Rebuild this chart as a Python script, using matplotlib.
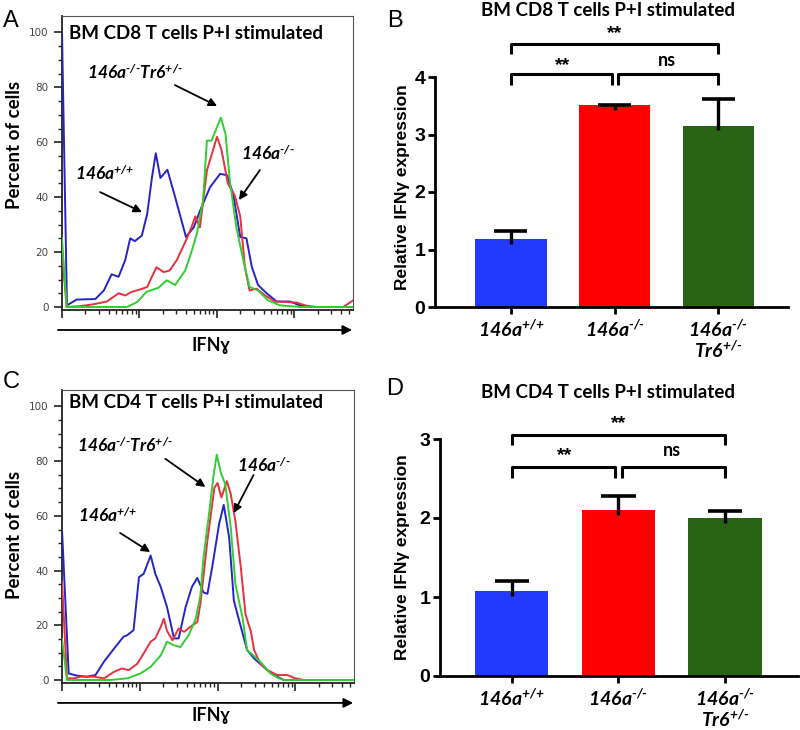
import numpy as np
import matplotlib
matplotlib.use('Agg')
import matplotlib.pyplot as plt

# ---- histogram data (x in log10 decades of IFNg signal, y = percent of cells) ----
cd8_wt_x = [0.0, 0.064, 0.19, 0.43, 0.54, 0.64, 0.73, 0.815, 0.88, 0.94, 1.03, 1.10, 1.16, 1.21, 1.27,
            1.36, 1.46, 1.60, 1.70, 1.78, 1.91, 2.04, 2.13, 2.21, 2.30, 2.38, 2.45, 2.53, 2.64, 2.77,
            2.94, 3.07, 3.28, 3.755]
cd8_wt_y = [100, 0.6, 2.7, 2.9, 6, 11.9, 11, 17, 25, 24, 26, 34, 47, 56, 47,
            50, 40, 25.5, 29, 35, 43.6, 48.5, 48, 41, 25.5, 25, 14.5, 8, 5, 2,
            2, 0.6, 0, 0]
cd8_ko_x = [0.0, 0.06, 0.23, 0.41, 0.58, 0.73, 0.815, 0.90, 1.01, 1.10, 1.16, 1.22, 1.31, 1.39, 1.48,
            1.59, 1.67, 1.72, 1.78, 1.87, 2.00, 2.06, 2.14, 2.23, 2.30, 2.36, 2.42, 2.51, 2.62, 2.75,
            3.03, 3.20, 3.50, 3.63, 3.755]
cd8_ko_y = [20, 0, 0.3, 1, 2, 5, 4.2, 5.5, 6.4, 7.3, 11, 14.5, 12.7, 13.3, 17,
            23.6, 29, 33, 29, 49.7, 62, 57, 45, 40.6, 33, 14.5, 6, 6.7, 4.2, 2,
            1.6, 0, 0, 0, 2.4]
cd8_dko_x = [0.0, 0.06, 0.84, 0.97, 1.09, 1.245, 1.35, 1.46, 1.59, 1.67, 1.74, 1.82, 1.87, 1.93, 2.00,
             2.05, 2.11, 2.17, 2.25, 2.34, 2.42, 2.53, 2.66, 2.81, 3.07, 3.755]
cd8_dko_y = [25, 0, 0, 1.8, 5.5, 7, 9.7, 8, 13.3, 20, 26.7, 38.8, 60.6, 60.6, 65.5,
             69, 63, 45, 29, 17, 7.3, 6, 2.4, 0.6, 0, 0]

cd4_wt_x = [0.0, 0.086, 0.19, 0.32, 0.43, 0.54, 0.67, 0.79, 0.84, 0.92, 0.99, 1.05, 1.14, 1.20, 1.27,
            1.35, 1.44, 1.50, 1.59, 1.67, 1.74, 1.82, 1.87, 1.93, 2.02, 2.08, 2.15, 2.21, 2.30, 2.38,
            2.47, 2.64, 2.77, 2.85, 3.755]
cd4_wt_y = [55, 2.4, 1.6, 1.2, 1.8, 6.7, 11.5, 15.8, 16.4, 18.2, 37.6, 38.8, 45.5, 38.8, 34,
            26.7, 15.2, 15.2, 26.7, 34, 37.3, 32, 31.5, 41, 57, 64, 52, 29, 19.4, 11,
            7.9, 3.6, 1.2, 0, 0]
cd4_ko_x = [0.0, 0.064, 0.15, 0.24, 0.41, 0.54, 0.67, 0.77, 0.86, 0.97, 1.05, 1.14, 1.20, 1.27, 1.31,
            1.35, 1.42, 1.50, 1.57, 1.65, 1.74, 1.78, 1.87, 1.96, 2.00, 2.05, 2.12, 2.17, 2.23, 2.30,
            2.36, 2.43, 2.47, 2.55, 2.64, 2.77, 2.90, 3.00, 3.11, 3.755]
cd4_ko_y = [36, 0.6, 0.6, 1.2, 1.2, 0.6, 3, 4.2, 3.6, 6, 9.7, 14, 15.2, 19.4, 22.4,
            18, 14.5, 18.8, 17.6, 19.4, 21.2, 27.9, 51, 70.3, 72, 66.7, 72.7, 68, 58, 41,
            24, 17.6, 11, 6, 3.6, 1.8, 1.8, 0.6, 0, 0]
cd4_dko_x = [0.0, 0.064, 0.62, 0.84, 1.01, 1.14, 1.27, 1.35, 1.44, 1.52, 1.63, 1.72, 1.78, 1.82, 1.89,
             1.95, 1.99, 2.04, 2.10, 2.17, 2.23, 2.32, 2.38, 2.55, 2.68, 2.79, 2.85, 3.755]
cd4_dko_y = [15, 0, 0, 0.6, 2.4, 4.8, 9, 14, 12.7, 12, 16.4, 22.4, 30.9, 44.8, 60.6,
             75, 82.4, 76, 71.5, 55.8, 35, 23, 11, 6.7, 2.4, 0.6, 0, 0]

# ---- bar data ----
groups = ['wt', 'ko', 'dko']
cd8_mean = [1.18, 3.51, 3.15]
cd8_err = [0.14, 0.01, 0.47]
cd4_mean = [1.07, 2.10, 2.00]
cd4_err = [0.13, 0.18, 0.09]

# superscripts drawn with \text so hyphens stay hyphens
plt.rcParams['mathtext.fontset'] = 'custom'
plt.rcParams['mathtext.rm'] = 'Lato:italic:bold'
plt.rcParams['mathtext.it'] = 'Lato:italic:bold'
plt.rcParams['mathtext.bf'] = 'Lato:italic:bold'

WT = '146a$^{\\text{+/+}}$'
KO = '146a$^{\\text{-/-}}$'
DKO = '146a$^{\\text{-/-}}$Tr6$^{\\text{+/-}}$'
DKO2 = '146a$^{\\text{-/-}}$\nTr6$^{\\text{+/-}}$'
bar_labels = [WT, KO, DKO2]

CAL = ['Lato', 'DejaVu Sans']
ARB = ['Liberation Sans', 'DejaVu Sans']
line_colors = {'wt': '#2424C8', 'ko': '#E8303F', 'dko': '#33CC33'}
bar_colors = ['#243AFA', '#FF0000', '#286414']

W, H = 800, 730
fig = plt.figure(figsize=(8, 7.3), dpi=100)


def px(x0, y0, x1, y1):
    return [x0 / W, 1 - y1 / H, (x1 - x0) / W, (y1 - y0) / H]


def histo(ax, data, title, ann):
    for key, (xs, ys) in data.items():
        ax.plot(10 ** np.array(xs), ys, color=line_colors[key], lw=1.4, zorder=3)
    ax.set_xscale('log')
    ax.set_xlim(1, 10 ** 3.755)
    ax.set_ylim(-1.1, 106)
    ax.set_xticks([1, 10, 100, 1000])
    ax.set_xticklabels([])
    ax.xaxis.set_minor_locator(matplotlib.ticker.LogLocator(base=10, subs=np.arange(2, 10)))
    ax.xaxis.set_minor_formatter(matplotlib.ticker.NullFormatter())
    ax.set_yticks([0, 20, 40, 60, 80, 100])
    ax.set_yticks(np.arange(0, 101, 5), minor=True)
    ax.tick_params(axis='both', which='major', length=6, width=1.2, color='#222222',
                   labelsize=7.5, labelcolor='#444444')
    ax.tick_params(axis='both', which='minor', length=3, width=1.0, color='#222222')
    for s in ax.spines.values():
        s.set_color('#555555')
        s.set_linewidth(0.8)
    ax.spines['left'].set_color('#222222')
    ax.spines['left'].set_linewidth(1.3)
    ax.spines['bottom'].set_color('#222222')
    ax.spines['bottom'].set_linewidth(1.3)
    ax.text(0.025, title[1], title[0], transform=ax.transAxes, ha='left', va='center',
            family=CAL, fontweight='bold', fontsize=13.5)
    for label, txt_xy, tail, head in ann:
        ax.text(txt_xy[0], txt_xy[1], label, transform=ax.transAxes, ha='center', va='center',
                family=CAL, fontweight='bold', style='italic', fontsize=12.5)
        ax.annotate('', xy=head, xytext=tail, xycoords='axes fraction', textcoords='axes fraction',
                    arrowprops=dict(arrowstyle='-|>', color='black', lw=1.3,
                                    mutation_scale=12, shrinkA=0, shrinkB=0))
    ax.annotate('', xy=(0.997, -0.068), xytext=(-0.014, -0.068), xycoords='axes fraction',
                annotation_clip=False,
                arrowprops=dict(arrowstyle='-|>', color='black', lw=1.3,
                                mutation_scale=14, shrinkA=0, shrinkB=0))


def bars(ax, mean, err, ymax, xlim, sig):
    x = np.arange(len(mean))
    mean = np.array(mean)
    err = np.array(err)
    ax.bar(x, mean, width=0.69, color=bar_colors, zorder=2)
    ax.vlines(x, mean - 0.02 * ymax, mean + err, color='black', lw=2.4, zorder=3)
    ax.hlines(mean + err, x - 0.16, x + 0.16, color='black', lw=2.6, zorder=3)
    ax.set_xlim(*xlim)
    ax.set_ylim(0, ymax)
    ax.set_yticks(np.arange(0, ymax + 1))
    ax.set_xticks(x)
    ax.set_xticklabels(bar_labels, family=CAL, fontweight='bold', style='italic', fontsize=13,
                       linespacing=1.0)
    for lab in ax.get_yticklabels():
        lab.set_family(ARB)
        lab.set_fontweight('bold')
    ax.tick_params(axis='both', length=5, width=2, labelsize=14, pad=2)
    ax.tick_params(axis='x', pad=3)
    ax.spines['top'].set_visible(False)
    ax.spines['right'].set_visible(False)
    for s in ('left', 'bottom'):
        ax.spines[s].set_linewidth(2)
    (hi, hi_leg, hi_txt), (lo, lo_leg, lo_txt) = sig
    kw = dict(color='black', lw=2.2, clip_on=False, solid_capstyle='butt')
    ax.plot([0, 0, 2, 2], [hi_leg, hi, hi, hi_leg], **kw)
    ax.plot([0, 0, 0.97, 0.97], [lo_leg, lo, lo, lo_leg], **kw)
    ax.plot([1.03, 1.03, 2, 2], [lo_leg, lo, lo, lo_leg], **kw)
    ax.text(1.0, hi_txt, '**', ha='center', va='center', family=ARB, fontweight='bold', fontsize=14)
    ax.text(0.5, lo_txt, '**', ha='center', va='center', family=ARB, fontweight='bold', fontsize=14)
    ax.text(1.5, lo_txt + 0.02 * ymax, 'ns', ha='center', va='center', family=CAL,
            fontweight='bold', fontsize=13)


axA = fig.add_axes(px(62, 16, 353, 310))
histo(axA, {'wt': (cd8_wt_x, cd8_wt_y), 'ko': (cd8_ko_x, cd8_ko_y), 'dko': (cd8_dko_x, cd8_dko_y)},
      ('BM CD8 T cells P+I stimulated', 0.94),
      [(DKO, (0.251, 0.810), (0.388, 0.765), (0.533, 0.694)),
       (KO, (0.708, 0.534), (0.680, 0.476), (0.608, 0.374)),
       (WT, (0.148, 0.466), (0.131, 0.401), (0.275, 0.333))])

axC = fig.add_axes(px(62, 390, 354, 683))
histo(axC, {'wt': (cd4_wt_x, cd4_wt_y), 'ko': (cd4_ko_x, cd4_ko_y), 'dko': (cd4_dko_x, cd4_dko_y)},
      ('BM CD4 T cells P+I stimulated', 0.957),
      [(DKO, (0.216, 0.812), (0.354, 0.765), (0.491, 0.669)),
       (KO, (0.691, 0.744), (0.656, 0.710), (0.588, 0.580)),
       (WT, (0.155, 0.573), (0.199, 0.512), (0.302, 0.447))])

axB = fig.add_axes(px(435, 77, 788, 307))
bars(axB, cd8_mean, cd8_err, 4, (-0.73, 2.67), ((4.58, 4.40, 4.75), (4.05, 3.86, 4.2)))

axD = fig.add_axes(px(440, 439, 798, 676))
bars(axD, cd4_mean, cd4_err, 3, (-0.67, 2.68), ((3.05, 2.92, 3.19), (2.64, 2.51, 2.79)))

# titles, axis labels, panel letters
for y, t in [(10, 'BM CD8 T cells P+I stimulated'), (392, 'BM CD4 T cells P+I stimulated')]:
    fig.text(608 / W, 1 - y / H, t, ha='center', va='center', family=CAL, fontweight='bold',
             fontsize=13.5)
for y in (145, 535):
    fig.text(15 / W, 1 - y / H, 'Percent of cells', rotation=90, ha='center', va='center',
             family=CAL, fontweight='bold', fontsize=13.5)
for y in (345, 715):
    fig.text(211 / W, 1 - y / H, 'IFNɣ', ha='center', va='center', family=CAL,
             fontweight='bold', fontsize=13)
for y in (187, 557):
    fig.text(403 / W, 1 - y / H, 'Relative IFNγ expression', rotation=90, ha='center',
             va='center', family=ARB, fontweight='bold', fontsize=12.5)
for x, y, l in [(11, 21, 'A'), (395, 21, 'B'), (11, 382, 'C'), (395, 389, 'D')]:
    fig.text(x / W, 1 - y / H, l, ha='center', va='center', family=ARB, fontsize=17)

fig.savefig('out.png', dpi=100)
